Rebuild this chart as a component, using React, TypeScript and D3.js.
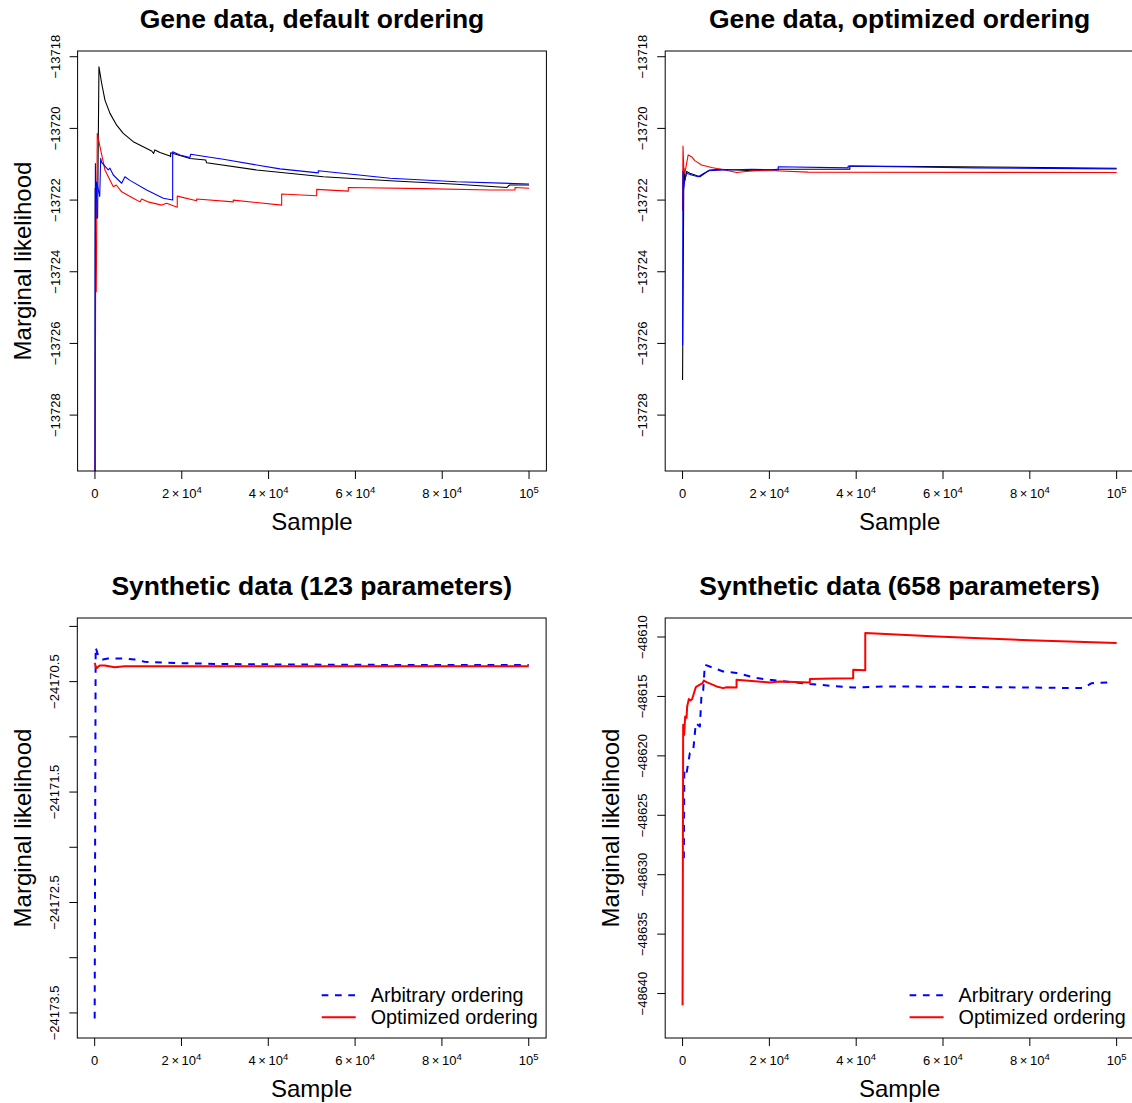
import React from "react";
import * as d3 from "d3";

type Pt = [number, number];

// ---------- data ----------
const xTicks = [0, 20000, 40000, 60000, 80000, 100000];
const xTickLabels = ["0", "2×10^4", "4×10^4", "6×10^4", "8×10^4", "10^5"];

const geneYTicks = [-13728, -13726, -13724, -13722, -13720, -13718];
const syn123YTicks = [-24173.5, -24173, -24172.5, -24172, -24171.5, -24171, -24170.5, -24170];
const syn123YLabeled = [-24173.5, -24172.5, -24171.5, -24170.5];
const syn658YTicks = [-48640, -48635, -48630, -48625, -48620, -48615, -48610];

const geneDefaultBlack: Pt[] = [
  [0, -13731], [60, -13721.67], [150, -13722.5], [600, -13722.5], [920, -13718.28],
  [1540, -13718.74], [2300, -13719.21], [3460, -13719.58], [5000, -13719.91],
  [6520, -13720.14], [8820, -13720.37], [11910, -13720.56], [13060, -13720.63],
  [13500, -13720.7], [13800, -13720.6], [14980, -13720.67], [17280, -13720.77],
  [17440, -13720.79], [17440, -13720.68], [21890, -13720.84], [25500, -13720.88],
  [25730, -13720.96], [37250, -13721.16], [52600, -13721.35], [67970, -13721.46],
  [83330, -13721.56], [94860, -13721.65], [95500, -13721.58], [100000, -13721.58],
];
const geneDefaultBlue: Pt[] = [
  [0, -13731], [50, -13723.5], [100, -13720.98], [250, -13722.5], [400, -13721.5],
  [1100, -13721.9], [1310, -13720.84], [1540, -13720.95], [3060, -13721.16],
  [3460, -13721.11], [4220, -13721.3], [6150, -13721.53], [6910, -13721.35],
  [8060, -13721.45], [11910, -13721.72], [15740, -13721.95], [17900, -13722.0],
  [17900, -13720.65], [19580, -13720.74], [21890, -13720.81], [22050, -13720.72],
  [25730, -13720.79], [29560, -13720.86], [37250, -13721.02], [42620, -13721.13],
  [51450, -13721.24], [51450, -13721.18], [67970, -13721.39], [83330, -13721.49],
  [100000, -13721.55],
];
const geneDefaultRed: Pt[] = [
  [0, -13731], [150, -13724.56], [300, -13724.56], [530, -13720.14], [1150, -13720.51],
  [2300, -13721.16], [4220, -13721.63], [4910, -13721.58], [6150, -13721.77],
  [8820, -13721.95], [10370, -13722.05], [10760, -13721.97], [12210, -13722.05],
  [15370, -13722.14], [16520, -13722.09], [18960, -13722.2], [18960, -13721.89],
  [23430, -13722.02], [23430, -13721.97], [31860, -13722.05], [31860, -13722.0],
  [43010, -13722.14], [43010, -13721.83], [51080, -13721.88], [51080, -13721.7],
  [58360, -13721.75], [58360, -13721.65], [75640, -13721.68], [91010, -13721.72],
  [96770, -13721.72], [96770, -13721.65], [100000, -13721.67],
];

const geneOptBlack: Pt[] = [
  [0, -13727.02], [300, -13721.11], [530, -13721.45], [920, -13721.2], [1680, -13721.25],
  [3990, -13721.35], [5140, -13721.25], [6290, -13721.16], [8590, -13721.14],
  [12440, -13721.16], [16270, -13721.18], [22030, -13721.14], [38540, -13721.14],
  [38540, -13721.05], [63500, -13721.07], [100000, -13721.11],
];
const geneOptRed: Pt[] = [
  [0, -13722.3], [100, -13720.49], [300, -13721.16], [530, -13721.25], [1290, -13720.74],
  [2070, -13720.79], [2830, -13720.9], [4380, -13721.02], [6680, -13721.09],
  [9750, -13721.16], [12440, -13721.23], [16270, -13721.18], [21270, -13721.18],
  [28940, -13721.22], [100000, -13721.23],
];
const geneOptBlue: Pt[] = [
  [0, -13726.05], [80, -13721.2], [200, -13721.72], [530, -13721.44], [920, -13721.25],
  [2070, -13721.3], [3590, -13721.35], [5140, -13721.24], [5900, -13721.18],
  [9750, -13721.16], [15900, -13721.14], [22030, -13721.16], [22030, -13721.07],
  [38150, -13721.1], [38150, -13721.05], [67350, -13721.1], [100000, -13721.13],
];

const syn123Arbitrary: Pt[] = [
  [0, -24173.55], [230, -24170.19], [760, -24170.26], [1150, -24170.29],
  [1910, -24170.3], [3060, -24170.29], [6150, -24170.29], [9220, -24170.3],
  [11520, -24170.32], [16890, -24170.33], [28410, -24170.34], [43780, -24170.345],
  [74490, -24170.35], [100000, -24170.35],
];
const syn123Optimized: Pt[] = [
  [0, -24170.33], [390, -24170.38], [1150, -24170.355], [2300, -24170.355],
  [4610, -24170.37], [6910, -24170.36], [13060, -24170.36], [28410, -24170.362],
  [100000, -24170.362],
];

const syn658Arbitrary: Pt[] = [
  [300, -48628.62], [400, -48621.18], [920, -48621.46], [1680, -48619.77],
  [2440, -48619.6], [3060, -48617.25], [3990, -48617.53], [4380, -48614.72],
  [4750, -48614.5], [5140, -48612.33], [9350, -48612.9], [12440, -48613.03],
  [17050, -48613.45], [20110, -48613.6], [29320, -48613.96], [39310, -48614.25],
  [47000, -48614.16], [66190, -48614.2], [92300, -48614.3], [94230, -48613.88],
  [98330, -48613.82],
];
const syn658Optimized: Pt[] = [
  [0, -48640.98], [140, -48617.39], [370, -48618.23], [600, -48616.69], [920, -48616.8],
  [1060, -48615.85], [1450, -48615.22], [1840, -48615.35], [2210, -48615.22],
  [3060, -48614.21], [3590, -48614.1], [4610, -48613.88], [4910, -48613.66],
  [5530, -48613.79], [7830, -48614.16], [9350, -48614.3], [10140, -48614.22],
  [12440, -48614.25], [12440, -48613.6], [20110, -48613.82], [22410, -48613.74],
  [29320, -48613.82], [29320, -48613.54], [34700, -48613.49], [39310, -48613.47],
  [39310, -48612.76], [42090, -48612.8], [42090, -48609.66], [58520, -48609.95],
  [81560, -48610.29], [100000, -48610.51],
];

const legendLabels = ["Arbitrary ordering", "Optimized ordering"];

// ---------- layout ----------
const FONT = "'Liberation Sans', Arial, Helvetica, sans-serif";
const PW = 468.8;
const PH = 420;

type Series = { data: Pt[]; color: string; width: number; dash?: string };
type Panel = {
  id: string;
  title: string;
  left: number;
  top: number;
  yDomain: [number, number];
  yTicks: number[];
  yLabeled: number[];
  yLab: boolean;
  series: Series[];
  legend: boolean;
};

const panels: Panel[] = [
  {
    id: "p1", title: "Gene data, default ordering", left: 77.6, top: 51,
    yDomain: [-13729.56, -13717.84], yTicks: geneYTicks, yLabeled: geneYTicks, yLab: true,
    series: [
      { data: geneDefaultBlack, color: "#000000", width: 1.1 },
      { data: geneDefaultRed, color: "#ff0000", width: 1.1 },
      { data: geneDefaultBlue, color: "#0000ff", width: 1.1 },
    ],
    legend: false,
  },
  {
    id: "p2", title: "Gene data, optimized ordering", left: 665.2, top: 51,
    yDomain: [-13729.56, -13717.84], yTicks: geneYTicks, yLabeled: geneYTicks, yLab: false,
    series: [
      { data: geneOptBlack, color: "#000000", width: 1.1 },
      { data: geneOptRed, color: "#ff0000", width: 1.1 },
      { data: geneOptBlue, color: "#0000ff", width: 1.1 },
    ],
    legend: false,
  },
  {
    id: "p3", title: "Synthetic data (123 parameters)", left: 77.3, top: 618,
    yDomain: [-24173.727, -24169.924], yTicks: syn123YTicks, yLabeled: syn123YLabeled, yLab: true,
    series: [
      { data: syn123Arbitrary, color: "#0000ff", width: 2, dash: "6.7,6.6" },
      { data: syn123Optimized, color: "#ff0000", width: 2 },
    ],
    legend: true,
  },
  {
    id: "p4", title: "Synthetic data (658 parameters)", left: 665.2, top: 618,
    yDomain: [-48643.74, -48608.4], yTicks: syn658YTicks, yLabeled: syn658YTicks, yLab: true,
    series: [
      { data: syn658Arbitrary, color: "#0000ff", width: 2, dash: "6.7,6.6" },
      { data: syn658Optimized, color: "#ff0000", width: 2 },
    ],
    legend: true,
  },
];

const fmtY = (v: number) => {
  const s = Number.isInteger(v) ? String(Math.abs(v)) : Math.abs(v).toFixed(1);
  return (v < 0 ? "\u2212" : "") + s;
};

function XLabel({ x, y, label }: { x: number; y: number; label: string }) {
  const parts = label.split("^");
  const base = parts[0].replace("×", "\u2009×\u2009");
  return (
    <text x={x} y={y} textAnchor="middle" fontSize={13} fontFamily={FONT} fill="#000">
      <tspan>{base}</tspan>
      {parts.length > 1 && (
        <tspan dy={-5.5} fontSize={9.5}>{parts[1]}</tspan>
      )}
    </text>
  );
}

function PanelView({ p }: { p: Panel }) {
  const x = d3.scaleLinear().domain([-4000, 104000]).range([p.left, p.left + PW]);
  const y = d3.scaleLinear().domain(p.yDomain).range([p.top + PH, p.top]);
  const line = d3
    .line<Pt>()
    .x((d) => x(d[0]))
    .y((d) => y(d[1]));
  const bottom = p.top + PH;
  const right = p.left + PW;
  const cx = p.left + PW / 2;
  const cy = p.top + PH / 2;
  const tick = 8;
  return (
    <g>
      <defs>
        <clipPath id={`clip-${p.id}`}>
          <rect x={p.left} y={p.top} width={PW} height={PH} />
        </clipPath>
      </defs>
      <text x={cx} y={p.top - 23} textAnchor="middle" fontSize={26.5} fontWeight="bold" fontFamily={FONT} fill="#000">
        {p.title}
      </text>
      <g clipPath={`url(#clip-${p.id})`}>
        {p.series.map((s, i) => (
          <path
            key={i}
            d={line(s.data) || ""}
            fill="none"
            stroke={s.color}
            strokeWidth={s.width}
            strokeDasharray={s.dash}
            strokeLinejoin="round"
          />
        ))}
      </g>
      <rect x={p.left} y={p.top} width={PW} height={PH} fill="none" stroke="#000" strokeWidth={1} />
      {/* x axis */}
      {xTicks.map((t, i) => (
        <g key={t}>
          <line x1={x(t)} x2={x(t)} y1={bottom} y2={bottom + tick} stroke="#000" strokeWidth={1} />
          <XLabel x={x(t)} y={bottom + 27} label={xTickLabels[i]} />
        </g>
      ))}
      <text x={cx} y={bottom + 59} textAnchor="middle" fontSize={24} fontFamily={FONT} fill="#000">
        Sample
      </text>
      {/* y axis */}
      {p.yTicks.map((t) => (
        <line key={t} x1={p.left - tick} x2={p.left} y1={y(t)} y2={y(t)} stroke="#000" strokeWidth={1} />
      ))}
      {p.yLabeled.map((t) => (
        <text
          key={t}
          transform={`translate(${p.left - 18},${y(t)}) rotate(-90)`}
          textAnchor="middle"
          fontSize={13}
          fontFamily={FONT}
          fill="#000"
        >
          {fmtY(t)}
        </text>
      ))}
      {p.yLab && (
        <text
          transform={`translate(${p.left - 46.5},${cy}) rotate(-90)`}
          textAnchor="middle"
          fontSize={24}
          fontFamily={FONT}
          fill="#000"
        >
          Marginal likelihood
        </text>
      )}
      {p.legend && (
        <g>
          {p.series.map((s, i) => (
            <g key={i}>
              <line
                x1={right - 224.4}
                x2={right - 190.4}
                y1={bottom - 42.7 + i * 22}
                y2={bottom - 42.7 + i * 22}
                stroke={s.color}
                strokeWidth={s.width}
                strokeDasharray={s.dash}
              />
              <text x={right - 175.4} y={bottom - 42.7 + i * 22 + 7} fontSize={19.8} fontFamily={FONT} fill="#000">
                {legendLabels[i]}
              </text>
            </g>
          ))}
        </g>
      )}
    </g>
  );
}

export default function App() {
  return (
    <div style={{ position: "absolute", left: 0, top: 0, width: 1132, height: 1103, overflow: "hidden", background: "#fff" }}>
      <svg width={1132} height={1103} style={{ display: "block" }}>
        <rect x={0} y={0} width={1132} height={1103} fill="#fff" />
        {panels.map((p) => (
          <PanelView key={p.id} p={p} />
        ))}
      </svg>
    </div>
  );
}
